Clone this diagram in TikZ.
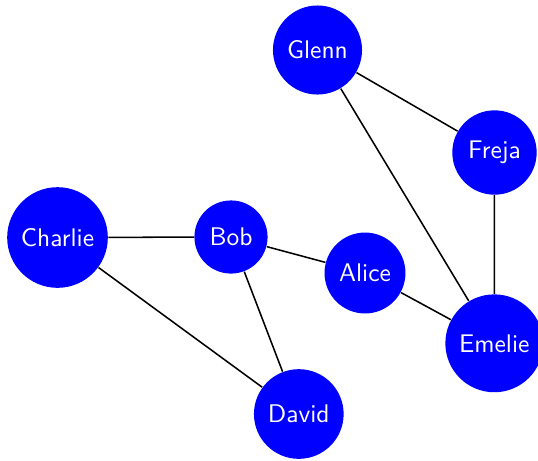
\documentclass[tikz,border=0pt]{standalone}
\begin{document}
\begin{tikzpicture}[x=0.392pt,y=-0.392pt,
  person/.style={circle,fill=blue,text=white,font=\sffamily,inner sep=3.9pt},
  link/.style={semithick,black}]
\useasboundingbox (0,0) rectangle (538,460);
\node[person] (glenn) at (317.5,50) {Glenn};
\node[person] (freja) at (494.5,152.5) {Freja};
\node[person] (charlie) at (57.5,237.5) {Charlie};
\node[person] (bob) at (231,237) {Bob};
\node[person] (alice) at (365,273) {Alice};
\node[person] (emelie) at (494.3,343.3) {Emelie};
\node[person] (david) at (298.8,414) {David};
\draw[link] (charlie) -- (bob);
\draw[link] (charlie) -- (david);
\draw[link] (bob) -- (alice);
\draw[link] (bob) -- (david);
\draw[link] (alice) -- (emelie);
\draw[link] (glenn) -- (freja);
\draw[link] (glenn) -- (emelie);
\draw[link] (freja) -- (emelie);
\end{tikzpicture}
\end{document}
